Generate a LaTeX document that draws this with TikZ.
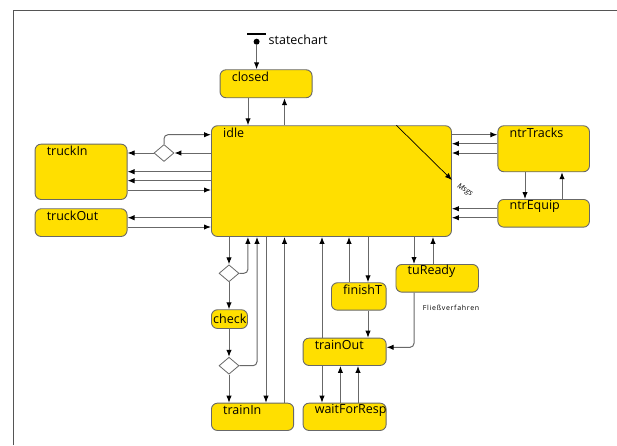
\documentclass[tikz,border=0pt]{standalone}
\usepackage{fontspec}
\setmainfont{Open Sans}
\usetikzlibrary{arrows.meta,shapes.geometric,positioning}
\definecolor{jaune}{HTML}{FFDF00}
\definecolor{trait}{HTML}{686868}
\definecolor{cadre}{HTML}{555555}

\begin{document}
\begin{tikzpicture}[x=1pt,y=-1pt,>={Latex[length=7pt,width=5.4pt,color=black]}]
%styles des etats et des transitions
\tikzset{etat/.style={draw=trait,fill=jaune,rounded corners=6pt,line width=0.9pt,anchor=north west,inner sep=0pt}}
\tikzset{titre/.style={anchor=west,inner sep=0pt,xshift=12pt,yshift=-7.5pt,font=\fontsize{12.5}{14}\selectfont}}
\tikzset{losange/.style={diamond,draw=trait,fill=white,line width=0.8pt,minimum width=20pt,minimum height=17pt,inner sep=0pt}}
\tikzset{tr/.style={draw=trait,line width=1pt,->}}
\tikzset{coin/.style={tr,rounded corners=4pt}}
\useasboundingbox (0,0) rectangle (617,445);
\draw[cadre,line width=1pt] (13.8,445) -- (13.8,10.3) -- (617,10.3);

%etat initial
\draw[line width=1.8pt] (247,33.7) -- (266,33.7);
\node[circle,fill=black,minimum size=6pt,inner sep=0pt] (init) at (256.6,41.7) {};
\node[anchor=west,inner sep=0pt,font=\fontsize{12.5}{14}\selectfont] (nom) at (268.5,39.5) {statechart};

%etats
\node[etat,minimum width=92pt,minimum height=28pt,label={[titre]north west:closed}] (closed) at (219.6,69.3) {};
\node[etat,minimum width=240pt,minimum height=110.7pt,label={[titre]north west:idle}] (idle) at (211,125.3) {};
\node[etat,minimum width=92pt,minimum height=55.3pt,label={[titre]north west:truckIn}] (truckIn) at (34.6,143.7) {};
\node[etat,minimum width=92pt,minimum height=27.7pt,label={[titre]north west:truckOut}] (truckOut) at (34.6,208.3) {};
\node[etat,minimum width=91.6pt,minimum height=46pt,label={[titre]north west:ntrTracks}] (ntrTracks) at (497.4,125.3) {};
\node[etat,minimum width=91.6pt,minimum height=27.7pt,label={[titre]north west:ntrEquip}] (ntrEquip) at (497.4,199) {};
\node[etat,minimum width=82.5pt,minimum height=27.7pt,label={[titre]north west:tuReady}] (tuReady) at (395.5,264) {};
\node[etat,minimum width=54.7pt,minimum height=27.4pt,label={[titre]north west:finishT}] (finishT) at (331,282.3) {};
\node[etat,minimum width=83.1pt,minimum height=27.3pt,label={[titre]north west:trainOut}] (trainOut) at (302.6,337.7) {};
\node[etat,minimum width=83.1pt,minimum height=27.3pt,label={[titre]north west:waitForResp}] (waitForResp) at (302.6,402.7) {};
\node[etat,minimum width=82.2pt,minimum height=27.3pt,label={[titre]north west:trainIn}] (trainIn) at (211,402.7) {};
\node[etat,minimum width=36pt,minimum height=18.7pt,label={[titre,xshift=-10pt,yshift=-1.8pt]north west:check}] (check) at (211,309.3) {};
\node[losange] (d1) at (164,153) {};
\node[losange] (d2) at (229,273.3) {};
\node[losange] (d3) at (229,365.7) {};

%textes
\node[rotate=-31,inner sep=0pt,font=\itshape\fontsize{7.5}{8}\selectfont] (msgs) at (465,190) {Msgs};
\node[anchor=west,inner sep=0pt,font=\fontsize{7}{8}\selectfont\addfontfeature{LetterSpace=10}] (fv) at (422.7,307.5) {Fließverfahren};

%transitions du haut
\draw[tr] (init) -- (closed.north -| init);
\draw[tr] ([xshift=28.4pt]closed.south west) -- ([xshift=37pt]idle.north west);
\draw[tr] ([xshift=73.5pt]idle.north west) -- ([xshift=64.9pt]closed.south west);
\draw[->,black,line width=0.7pt] ([xshift=-55.5pt]idle.north east) -- ([yshift=-54.7pt]idle.north east);

%transitions a gauche
\draw[tr] (idle.west |- d1) -- (d1.east);
\draw[tr] (d1.west) -- (truckIn.east |- d1);
\draw[coin] (d1.north) |- ([yshift=-9.4pt]idle.north west);
\draw[tr] ([yshift=-46.4pt]idle.north west) -- ([yshift=-28pt]truckIn.north east);
\draw[tr] ([yshift=-55.4pt]idle.north west) -- ([yshift=-37pt]truckIn.north east);
\draw[tr] ([yshift=-46.3pt]truckIn.north east) -- ([yshift=-64.7pt]idle.north west);
\draw[tr] ([yshift=-92.4pt]idle.north west) -- ([yshift=-9.4pt]truckOut.north east);
\draw[tr] ([yshift=-18.7pt]truckOut.north east) -- ([yshift=-101.7pt]idle.north west);

%transitions a droite
\draw[tr] ([yshift=-9.4pt]idle.north east) -- ([yshift=-9.4pt]ntrTracks.north west);
\draw[tr] ([yshift=-18.4pt]ntrTracks.north west) -- ([yshift=-18.4pt]idle.north east);
\draw[tr] ([yshift=-27.7pt]ntrTracks.north west) -- ([yshift=-27.7pt]idle.north east);
\draw[tr] ([xshift=27.6pt]ntrTracks.south west) -- ([xshift=27.6pt]ntrEquip.north west);
\draw[tr] ([xshift=64.6pt]ntrEquip.north west) -- ([xshift=64.6pt]ntrTracks.south west);
\draw[tr] ([yshift=-9.7pt]ntrEquip.north west) -- ([yshift=-83.4pt]idle.north east);
\draw[tr] ([yshift=-18.7pt]ntrEquip.north west) -- ([yshift=-92.4pt]idle.north east);

%transitions du bas
\draw[tr] (idle.south -| d2) -- (d2.north);
\draw[coin] (d2.east) -| (idle.south -| check.east);
\draw[tr] (d2.south) -- (check.north -| d2);
\draw[tr] (check.south -| d3) -- (d3.north);
\draw[coin] (d3.east) -| ([xshift=46pt]idle.south west);
\draw[tr] (d3.south) -- (trainIn.north -| d3);
\draw[tr] ([xshift=55pt]idle.south west) -- ([xshift=55pt]trainIn.north west);
\draw[tr] ([xshift=73.5pt]trainIn.north west) -- ([xshift=73.5pt]idle.south west);
\draw[tr] ([xshift=19.4pt]trainOut.north west) -- ([xshift=111pt]idle.south west);
\draw[tr] ([xshift=18pt]finishT.north west) -- ([xshift=138pt]idle.south west);
\draw[tr] ([xshift=157pt]idle.south west) -- ([xshift=37pt]finishT.north west);
\draw[tr] ([xshift=37pt]finishT.south west) -- ([xshift=65.4pt]trainOut.north west);
\draw[tr] ([xshift=203pt]idle.south west) -- ([xshift=18.5pt]tuReady.north west);
\draw[tr] ([xshift=37.5pt]tuReady.north west) -- ([xshift=222pt]idle.south west);
\draw[coin] ([xshift=18.5pt]tuReady.south west) |- ([yshift=-9.6pt]trainOut.north east);
\draw[tr] ([xshift=19.4pt]trainOut.south west) -- ([xshift=19.4pt]waitForResp.north west);
\draw[tr] ([xshift=37.8pt]waitForResp.north west) -- ([xshift=37.8pt]trainOut.south west);
\draw[tr] ([xshift=55.4pt]waitForResp.north west) -- ([xshift=55.4pt]trainOut.south west);
\end{tikzpicture}
\end{document}
